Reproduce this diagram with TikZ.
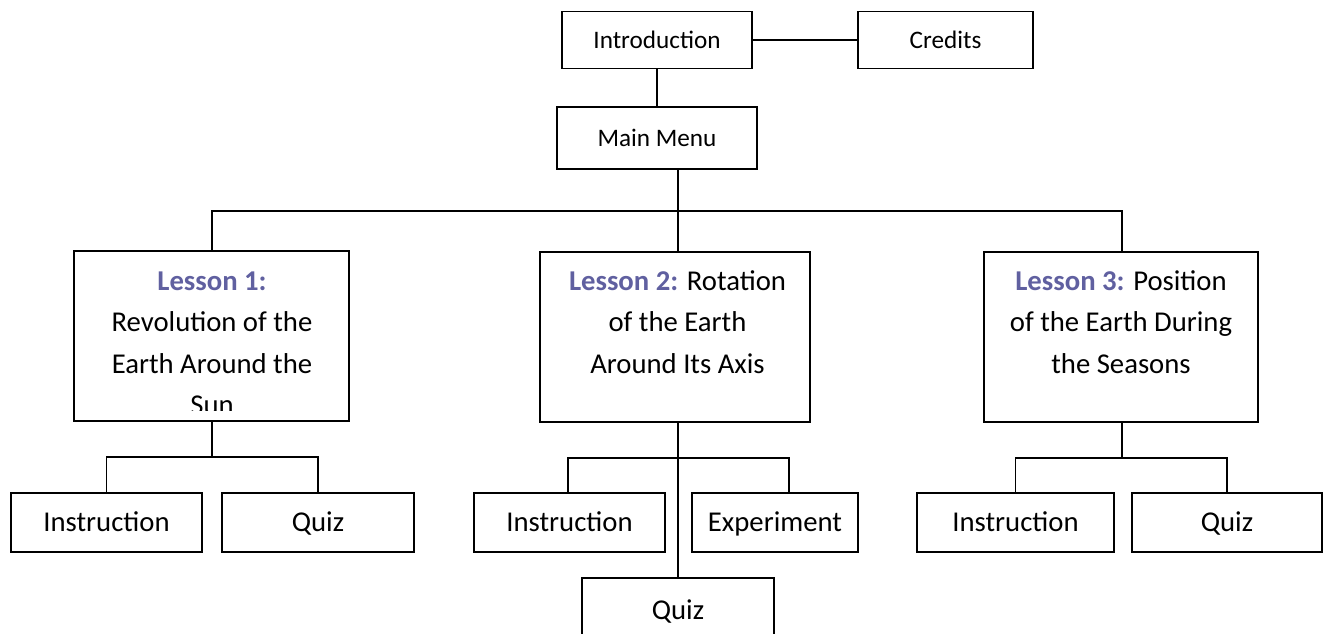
\documentclass[tikz,border=0pt]{standalone}
\usepackage{fontspec}
\setmainfont{Carlito}
\definecolor{lessoncol}{RGB}{96,96,160}
\begin{document}
\begin{tikzpicture}[x=1pt,y=-1pt,
  topfont/.style={font=\fontsize{25.2}{41.5}\selectfont, text height=16.2pt, text depth=0pt},
  lowfont/.style={font=\fontsize{28.7}{41.5}\selectfont, text height=18.5pt, text depth=0pt},
  box/.style={draw=black, line width=1.6pt, rectangle, inner sep=0pt, outer sep=0pt},
  conn/.style={draw=black, line width=1.6pt},
  lessonbox/.style={draw=black, line width=1.6pt, rectangle, inner sep=0pt, outer sep=0pt},
  lessontext/.style={font=\fontsize{28.7}{41.5}\selectfont, anchor=base, align=flush center, text width=268pt, inner sep=0pt}]
\path[use as bounding box] (0,0) rectangle (1326,634);
% top
\node[box, topfont, minimum width=190pt, minimum height=57pt] (intro) at (657,40) {Introduction};
\node[box, topfont, minimum width=175pt, minimum height=57pt] (credits) at (945.5,40) {Credits};
\node[box, topfont, minimum width=200pt, minimum height=62pt] (main) at (657,138) {Main Menu};
% lessons
\node[lessonbox, minimum width=275pt, minimum height=170pt] (L1) at (211.5,336) {};
\node[lessonbox, minimum width=270pt, minimum height=170pt] (L2) at (675,337) {};
\node[lessonbox, minimum width=274pt, minimum height=170pt] (L3) at (1121,337) {};
\begin{scope}
\clip (80,255) rectangle (345,410.5);
\node[lessontext] (L1t) at (212,290) {\textcolor{lessoncol}{\textbf{Lesson 1:}}\\Revolution of the\\Earth Around the\\Sun};
\end{scope}
\node[lessontext] (L2t) at (677.5,290) {\textcolor{lessoncol}{\textbf{Lesson 2:}} Rotation\\of the Earth\\Around Its Axis};
\node[lessontext] (L3t) at (1121,290) {\textcolor{lessoncol}{\textbf{Lesson 3:}} Position\\of the Earth During\\the Seasons};
% sub boxes
\node[box, lowfont, minimum width=191pt, minimum height=59pt] (I1) at (106.5,522.5) {Instruction};
\node[box, lowfont, minimum width=192pt, minimum height=59pt] (Q1) at (318,522.5) {Quiz};
\node[box, lowfont, minimum width=191pt, minimum height=59pt] (I2) at (569.5,522.5) {Instruction};
\node[box, lowfont, minimum width=166pt, minimum height=59pt] (E2) at (775,522.5) {Experiment};
\node[box, lowfont, minimum width=192pt, minimum height=64pt] (Q2) at (678,610) {Quiz};
\node[box, lowfont, minimum width=197pt, minimum height=59pt] (I3) at (1015.5,522.5) {Instruction};
\node[box, lowfont, minimum width=190pt, minimum height=59pt] (Q3) at (1227,522.5) {Quiz};
% coordinates
\coordinate (bL) at (212,211);
\coordinate (bM) at (678,211);
\coordinate (bR) at (1122,211);
\coordinate (s1) at (212,457);
\coordinate (s2) at (678,458);
\coordinate (s2l) at (568,458);
\coordinate (s2r) at (789,458);
\coordinate (s3) at (1122,458);
% connectors
\draw[conn] (intro.east) -- (credits.west);
\draw[conn] (intro.south) -- (main.north);
\draw[conn] (main.south -| bM) -- (L2.north -| bM);
\draw[conn] (L1.north -| bL) |- (bR) -- (L3.north -| bR);
\draw[conn] (L1.south -| s1) -- (s1);
\draw[conn] (I1.north) |- (s1) -| (Q1.north);
\draw[conn] (L2.south -| s2) -- (Q2.north -| s2);
\draw[conn] (I2.north -| s2l) -- (s2l) -- (s2r) -- (E2.north -| s2r);
\draw[conn] (L3.south -| s3) -- (s3);
\draw[conn] (I3.north) |- (s3) -| (Q3.north);
\end{tikzpicture}
\end{document}
